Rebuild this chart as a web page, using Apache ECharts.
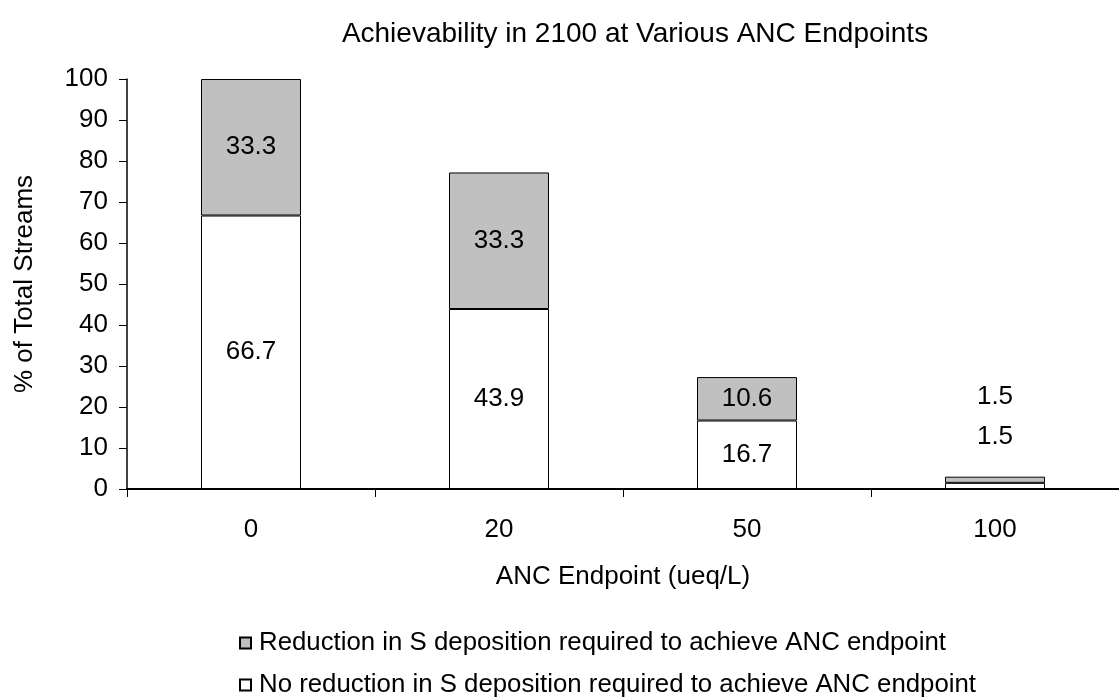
<!DOCTYPE html>
<html><head><meta charset="utf-8">
<script src="https://cdn.jsdelivr.net/npm/echarts@6/dist/echarts.min.js"></script>
<style>html,body{margin:0;padding:0;background:#fff}#c{width:1119px;height:698px}</style>
</head><body><div id="c"></div>
<script>
var categories = ['0', '20', '50', '100'];
var noReduction = [66.7, 43.9, 16.7, 1.5];
var reduction = [33.3, 33.3, 10.6, 1.5];
var yTicks = [0, 10, 20, 30, 40, 50, 60, 70, 80, 90, 100];
var seriesNames = ['No reduction in S deposition required to achieve ANC endpoint',
                   'Reduction in S deposition required to achieve ANC endpoint'];

var FONT = 'Liberation Sans, Arial, sans-serif';
var FS = 26;
var chart = echarts.init(document.getElementById('c'), null, {renderer: 'canvas'});

function lbl(v, i, dist) {
  var o = {value: v};
  if (categories[i] === '100') {
    o.label = {position: 'top', distance: dist};
  }
  return o;
}

var legendBase = {
  orient: 'vertical', left: 234,
  itemWidth: 11, itemHeight: 11, icon: 'rect',
  textStyle: {fontSize: 25.8, color: '#000', fontFamily: FONT, padding: [0, 0, 0, 3]}
};

chart.setOption({
  animation: false,
  textStyle: {fontFamily: FONT},
  title: {
    text: 'Achievability in 2100 at Various ANC Endpoints',
    left: 630, top: 15, textAlign: 'center',
    textStyle: {fontSize: 28, fontWeight: 'normal', color: '#000', fontFamily: FONT}
  },
  grid: {left: 127, right: 0, top: 79, bottom: 209, containLabel: false},
  legend: [
    Object.assign({}, legendBase, {top: 625, data: [seriesNames[1]]}),
    Object.assign({}, legendBase, {top: 667, data: [seriesNames[0]]})
  ],
  xAxis: {
    type: 'category', data: categories,
    name: 'ANC Endpoint (ueq/L)', nameLocation: 'middle', nameGap: 75,
    nameTextStyle: {fontSize: FS, color: '#000', fontFamily: FONT},
    axisLine: {lineStyle: {color: '#000', width: 2}},
    axisTick: {show: true, length: 8, lineStyle: {color: '#000', width: 1}},
    axisLabel: {fontSize: FS, color: '#000', margin: 28, fontFamily: FONT}
  },
  yAxis: {
    type: 'value', min: 0, max: 100, interval: 10,
    name: '% of Total Streams', nameLocation: 'middle', nameGap: 89, nameRotate: 90,
    nameTextStyle: {fontSize: FS, color: '#000', fontFamily: FONT},
    axisLine: {show: true, lineStyle: {color: '#000', width: 1.5}},
    axisTick: {show: true, length: 8, inside: false, lineStyle: {color: '#000', width: 1}},
    splitLine: {show: false},
    axisLabel: {fontSize: FS, color: '#000', margin: 19, fontFamily: FONT,
      formatter: function (v) { return yTicks.indexOf(v) >= 0 ? String(v) : ''; }}
  },
  series: [
    {
      name: seriesNames[0], type: 'bar', stack: 's', barWidth: 100,
      itemStyle: {color: '#ffffff', borderColor: '#000', borderWidth: 1},
      label: {show: true, position: 'inside', fontSize: FS, color: '#000', fontFamily: FONT},
      data: noReduction.map(function (v, i) { return lbl(v, i, 33); })
    },
    {
      name: seriesNames[1], type: 'bar', stack: 's', barWidth: 100,
      itemStyle: {color: '#c0c0c0', borderColor: '#000', borderWidth: 1},
      label: {show: true, position: 'inside', fontSize: FS, color: '#000', fontFamily: FONT},
      data: reduction.map(function (v, i) { return lbl(v, i, 67); })
    }
  ]
});
</script></body></html>
